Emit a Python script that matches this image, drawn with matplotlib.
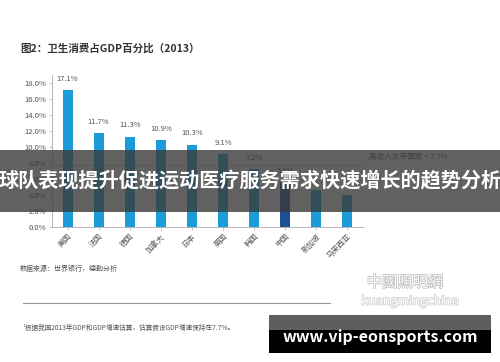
import matplotlib
matplotlib.use("Agg")
import matplotlib.pyplot as plt
from matplotlib.patches import Rectangle
import matplotlib.patheffects as pe

plt.rcParams['font.family'] = ['Noto Sans CJK SC', 'DejaVu Sans']

# 数据
countries = ['美国', '法国', '德国', '加拿大', '日本', '英国', '韩国', '中国', '新加坡', '马来西亚']
values = [17.1, 11.7, 11.3, 10.9, 10.3, 9.1, 7.2, 5.6, 4.6, 4.0]
labels = ['17.1%', '11.7%', '11.3%', '10.9%', '10.3%', '9.1%', '7.2%', '5.6%', '', '']
yticks = [0, 2, 4, 6, 8, 10, 12, 14, 16, 18]
high_income = 7.7

fig = plt.figure(figsize=(5, 3.62), dpi=100)
fig.patch.set_facecolor('white')

ax = fig.add_axes([0.104, 0.373, 0.622, 0.42])
colors = ['#1b9bd7'] * len(countries)
colors[countries.index('中国')] = '#1f4f93'
x = range(len(countries))
ax.bar(x, values, width=0.32, color=colors, zorder=2)
for i, (v, t) in enumerate(zip(values, labels)):
    if t:
        ax.text(i, v + 0.9, t, ha='center', va='bottom', fontsize=5.5, color='#555555')

# 高收入国家平均线
ax.axhline(high_income, color='#bbbbbb', lw=0.6, zorder=1)
ax.text(1.02, high_income + 0.6, '高收入水平国家 = 7.7%', ha='left', va='bottom',
        fontsize=5.5, color='#555555', transform=ax.get_yaxis_transform(), clip_on=False)

ax.set_xlim(-0.5, len(countries) - 0.5)
ax.set_ylim(0, 19)
ax.set_yticks(yticks)
ax.set_yticklabels([f'{t:.1f}%' for t in yticks], fontsize=5.5, color='#555555')
ax.set_xticks(list(x))
ax.set_xticklabels(countries, rotation=45, ha='right', rotation_mode='anchor',
                   fontsize=5.5, color='#555555')
for s in ['top', 'right']:
    ax.spines[s].set_visible(False)
for s in ['left', 'bottom']:
    ax.spines[s].set_color('#aaaaaa')
    ax.spines[s].set_linewidth(0.6)
ax.tick_params(axis='y', length=2, width=0.5, color='#aaaaaa', pad=2)
ax.tick_params(axis='x', length=2, width=0.5, color='#aaaaaa', pad=2)

# 标题和注释
fig.text(0.04, 0.865, '图2：卫生消费占GDP百分比（2013）', fontsize=7.6, fontweight='bold',
         color='#333333', va='center')
fig.text(0.04, 0.258, '数据来源：世界银行，德勤分析', fontsize=5, color='#555555', va='center')
fig.add_artist(plt.Line2D([0.045, 0.66], [0.163, 0.163], color='#999999', lw=0.8))
fig.text(0.045, 0.095, '¹根据我国2013年GDP和GDP增速估算，估算假设GDP增速保持在7.7%。',
         fontsize=4.8, color='#555555', va='center')

# 水印
fig.text(0.81, 0.22, '中國照明網', fontsize=11, color='white', ha='center', va='center',
         path_effects=[pe.withStroke(linewidth=1.0, foreground='#bbbbbb')])
fig.text(0.82, 0.168, 'kuangmingchina', fontsize=9, color='white', ha='center', va='center',
         style='italic',
         path_effects=[pe.withStroke(linewidth=1.0, foreground='#cccccc')])

# 标题遮罩条
fig.add_artist(Rectangle((0, 0.415), 1, 0.172, transform=fig.transFigure,
                         facecolor='#3a3a3a', alpha=0.8, zorder=10))
fig.text(0.5, 0.5, '球队表现提升促进运动医疗服务需求快速增长的趋势分析', fontsize=14.5,
         fontweight='bold', color='white', ha='center', va='center', zorder=11)

# 网址框
fig.add_artist(Rectangle((0.538, 0.025), 0.444, 0.063, transform=fig.transFigure,
                         facecolor='black', zorder=10))
fig.add_artist(Rectangle((0.538, 0.088), 0.444, 0.042, transform=fig.transFigure,
                         facecolor='#5e5e5e', zorder=10))
fig.text(0.76, 0.068, 'www.vip-eonsports.com', fontsize=11.5, fontweight='bold',
         color='white', ha='center', va='center', zorder=11)

fig.savefig('out.png', dpi=100)
